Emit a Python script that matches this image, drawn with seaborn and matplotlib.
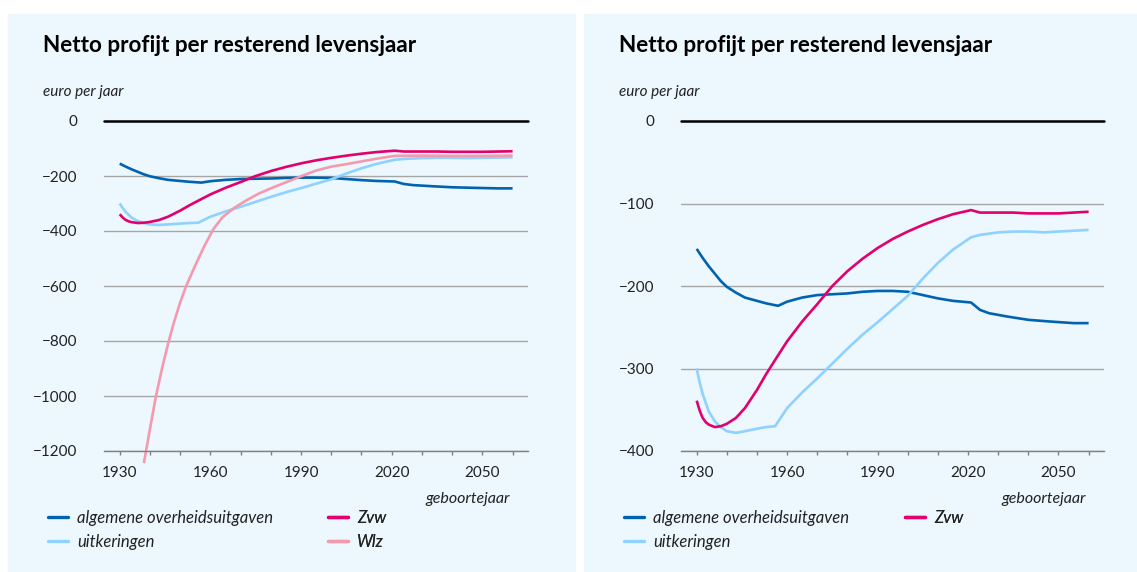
import matplotlib
matplotlib.use("Agg")
import matplotlib.pyplot as plt
from matplotlib.patches import Rectangle
from matplotlib.lines import Line2D
import seaborn as sns
import pandas as pd

sns.set_theme(style="white")
plt.rcParams['font.family'] = ['Lato', 'DejaVu Sans']
plt.rcParams['axes.unicode_minus'] = True

# ---- data ----
alg_years = [1930, 1932, 1934, 1936, 1938, 1940, 1943, 1946, 1950, 1953, 1957, 1960, 1965, 1970,
             1975, 1980, 1985, 1990, 1995, 2000, 2005, 2010, 2015, 2021, 2024, 2027, 2033, 2040,
             2047, 2055, 2060]
alg_vals = [-155, -166, -176, -185, -194, -201, -208, -214, -218, -221, -224, -219, -214, -211,
            -210, -209, -207, -206, -206, -207, -211, -215, -218, -220, -229, -233, -237, -241,
            -243, -245, -245]

uitk_years = [1930, 1931, 1932, 1934, 1936, 1938, 1940, 1943, 1946, 1950, 1953, 1956, 1960, 1965,
              1970, 1975, 1980, 1985, 1990, 1995, 2000, 2005, 2010, 2015, 2021, 2024, 2030, 2035,
              2040, 2045, 2050, 2055, 2060]
uitk_vals = [-300, -317, -331, -352, -364, -371, -376, -378, -376, -373, -371, -370, -348, -329,
             -312, -294, -276, -259, -244, -228, -212, -191, -172, -156, -141, -138, -135, -134,
             -134, -135, -134, -133, -132]

zvw_years = [1930, 1931, 1932, 1933, 1934, 1936, 1938, 1940, 1943, 1946, 1950, 1953, 1957, 1960,
             1965, 1970, 1975, 1980, 1985, 1990, 1995, 2000, 2005, 2010, 2015, 2021, 2024, 2030,
             2035, 2040, 2045, 2050, 2055, 2060]
zvw_vals = [-339, -351, -360, -365, -368, -371, -370, -367, -360, -348, -326, -307, -284, -267,
            -243, -222, -200, -182, -167, -154, -143, -134, -126, -119, -113, -108, -111, -111,
            -111, -112, -112, -112, -111, -110]

wlz_years = [1938, 1940, 1942, 1944, 1946, 1948, 1950, 1952, 1955, 1958, 1961, 1964, 1968, 1972,
             1976, 1980, 1985, 1990, 1995, 2000, 2005, 2010, 2015, 2021, 2030, 2040, 2050, 2060]
wlz_vals = [-1244, -1120, -1000, -900, -810, -730, -660, -600, -525, -455, -393, -350, -315, -288,
            -264, -245, -223, -201, -180, -166, -157, -147, -137, -127, -126, -127, -127, -126]

names = ["algemene overheidsuitgaven", "uitkeringen", "Zvw", "Wlz"]
colors = {"algemene overheidsuitgaven": "#0063b0", "uitkeringen": "#8fd1ff",
          "Zvw": "#e2006e", "Wlz": "#f599ad"}

title = "Netto profijt per resterend levensjaar"
x_ticks = list(range(1930, 2061, 10))
left_yticks = [0, -200, -400, -600, -800, -1000, -1200]
right_yticks = [0, -100, -200, -300, -400]


def frame(series):
    parts = []
    for name, yrs, vals in series:
        parts.append(pd.DataFrame({"jaar": yrs, "waarde": vals, "reeks": name}))
    return pd.concat(parts, ignore_index=True)


df_left = frame([(names[0], alg_years, alg_vals), (names[1], uitk_years, uitk_vals),
                 (names[2], zvw_years, zvw_vals), (names[3], wlz_years, wlz_vals)])
df_right = frame([(names[0], alg_years, alg_vals), (names[1], uitk_years, uitk_vals),
                  (names[2], zvw_years, zvw_vals)])

W, H = 1137, 572
fig = plt.figure(figsize=(W / 100, H / 100), dpi=100)
fig.patch.set_facecolor("white")
bg = "#ecf7fe"
fig.add_artist(Rectangle((8 / W, 1 - 571 / H), (575 - 8) / W, (571 - 14) / H,
                         transform=fig.transFigure, color=bg, zorder=0))
fig.add_artist(Rectangle((584 / W, 1 - 571 / H), (1137 - 584) / W, (571 - 14) / H,
                         transform=fig.transFigure, color=bg, zorder=0))


def px_axes(x0, x1, ytop, ybot):
    return fig.add_axes([x0 / W, 1 - ybot / H, (x1 - x0) / W, (ybot - ytop) / H])


ax1 = px_axes(104, 528, 121, 451)
ax2 = px_axes(681, 1104, 121, 451)

for ax, df, yt, ymin, x0 in [(ax1, df_left, left_yticks, -1200, 8),
                             (ax2, df_right, right_yticks, -400, 584)]:
    ax.set_facecolor("none")
    sns.lineplot(data=df, x="jaar", y="waarde", hue="reeks", palette=colors,
                 linewidth=1.9, legend=False, ax=ax, sort=False)
    for ln in ax.lines:
        ln.set_clip_on(False)
        ln.set_solid_capstyle("butt")
    ax.set_xlim(1924.8, 2065.1)
    ax.set_ylim(ymin, 0)
    ax.set_yticks(yt)
    ax.set_yticklabels([str(v).replace("-", "\u2212") for v in yt])
    ax.set_xticks(x_ticks)
    ax.set_xticklabels([str(t) if (t - 1930) % 30 == 0 else "" for t in x_ticks])
    for s in ["top", "left", "right"]:
        ax.spines[s].set_visible(False)
    ax.spines["bottom"].set_color("#808080")
    ax.spines["bottom"].set_linewidth(1.0)
    ax.yaxis.grid(True, color="#a6a6a6", linewidth=1.0)
    ax.set_axisbelow(True)
    ax.axhline(0, color="black", linewidth=1.8, clip_on=False, zorder=3)
    ax.tick_params(axis="y", length=0, pad=19, labelsize=11, labelcolor="#222222")
    ax.tick_params(axis="x", length=3, width=1, color="#808080", direction="out",
                   pad=8, labelsize=11, labelcolor="#222222", bottom=True)
    ax.set_xlabel("")
    ax.set_ylabel("")
    ax.text(0.957, -0.157, "geboortejaar", transform=ax.transAxes, ha="right",
            va="baseline", fontsize=11.5, style="italic", color="#222222")
    fig.text((x0 + 35) / W, 1 - 52 / H, title, fontsize=16.2, fontweight="bold",
             va="baseline", color="black")
    fig.text((x0 + 35) / W, 1 - 96 / H, "euro per jaar", fontsize=11, style="italic",
             va="baseline", color="#222222")


def add_legend(ax, labels, xpx):
    handles = [Line2D([], [], color=colors[l], linewidth=2.4) for l in labels]
    leg = ax.legend(handles, labels, loc="upper left",
                    bbox_to_anchor=(xpx / W, 1 - 510 / H), bbox_transform=fig.transFigure,
                    frameon=False, handlelength=1.2, handletextpad=0.55,
                    borderpad=0, borderaxespad=0, labelspacing=0.5,
                    prop={"style": "italic", "size": 12})
    for t in leg.get_texts():
        t.set_color("#222222")
    ax.add_artist(leg)


add_legend(ax1, names[:2], 48)
add_legend(ax1, names[2:], 328)
add_legend(ax2, names[:2], 624)
add_legend(ax2, names[2:3], 905)

fig.savefig("out.png", dpi=100)
